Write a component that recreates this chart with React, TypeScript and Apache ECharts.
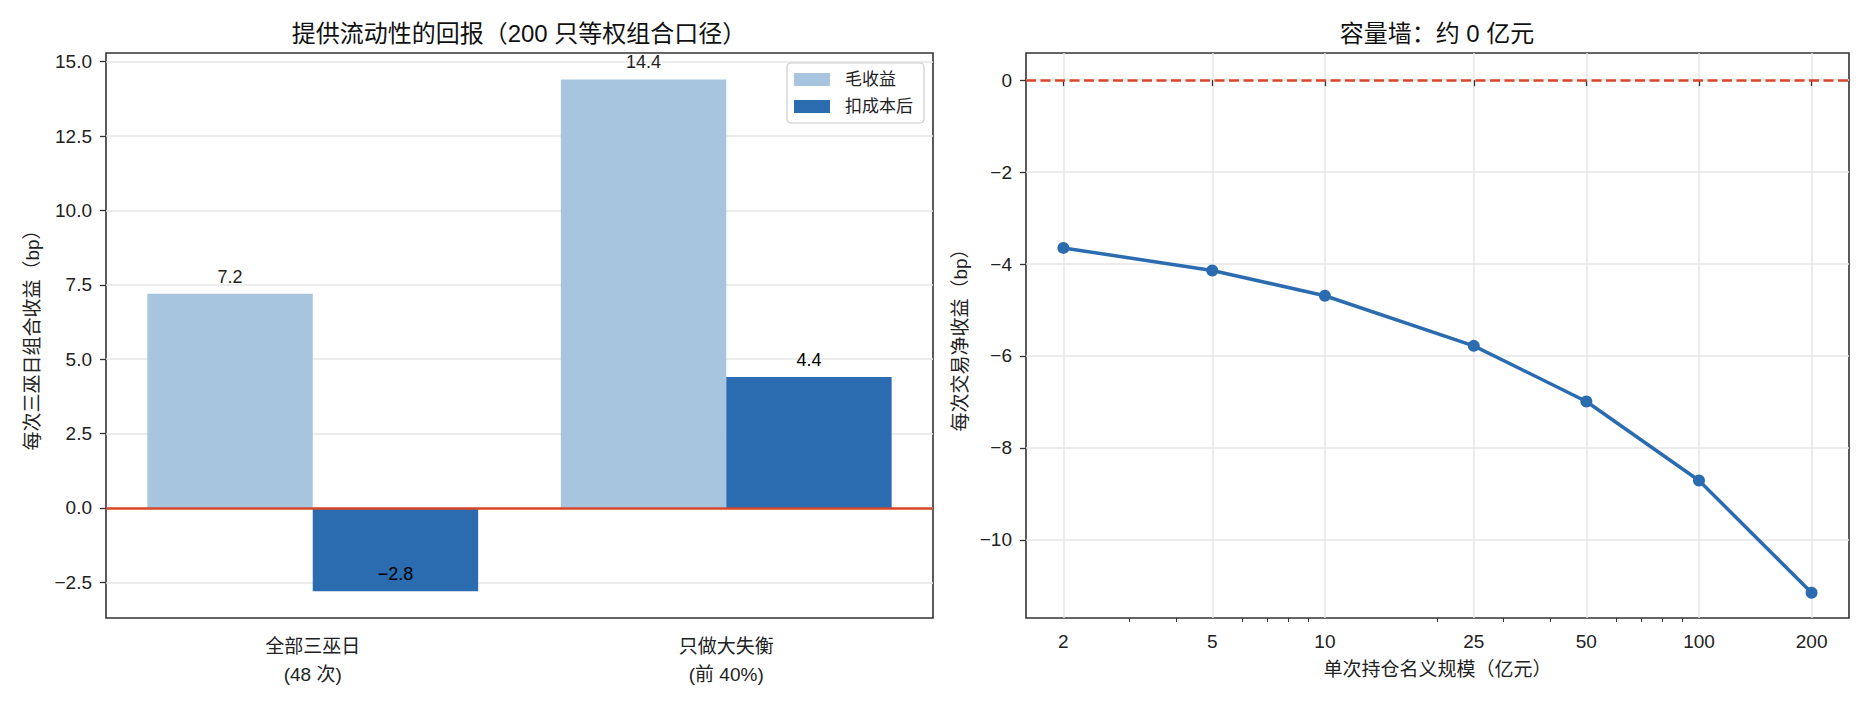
import { useEffect, useRef } from 'react';
import * as echarts from 'echarts';

// left panel: liquidity provision return
const categories = ['全部三巫日\n(48 次)', '只做大失衡\n(前 40%)'];
const grossReturn = [7.2, 14.4];
const netReturn = [-2.8, 4.4];
const leftTicks = [-2.5, 0, 2.5, 5, 7.5, 10, 12.5, 15];

// right panel: capacity wall
const sizes = [2, 5, 10, 25, 50, 100, 200];
const netPerTrade = [-3.65, -4.14, -4.69, -5.78, -6.99, -8.71, -11.15];
const sizeTicks = [2, 5, 10, 25, 50, 100, 200];
const sizeMinorTicks = [3, 4, 6, 7, 8, 9, 20, 30, 40, 60, 70, 80, 90];
const rightTicks = [-10, -8, -6, -4, -2, 0];

const FONT = "'Liberation Sans', 'Noto Sans CJK SC', sans-serif";
const LIGHT = '#a8c5e0';
const DARK = '#2b6cb0';
const RED = '#d6472b';
const GRID = '#e6e6e6';
const AXIS = '#333';

const minus = (s: string) => s.replace('-', '\u2212');

export default function App() {
  const chartRef = useRef<HTMLDivElement>(null);

  useEffect(() => {
    if (!chartRef.current) {
      return;
    }
    document.body.style.margin = '0';
    const chart = echarts.init(chartRef.current, null, { renderer: 'svg' });

    const tick = { length: 6, lineStyle: { color: AXIS, width: 1.3 } };
    const label = { fontSize: 19, color: '#222', fontFamily: FONT };

    const option: any = {
      animation: false,
      textStyle: { fontFamily: FONT },
      graphic: [
        {
          type: 'text',
          x: 519,
          y: 33,
          style: {
            text: '提供流动性的回报（200 只等权组合口径）',
            font: `24px ${FONT}`,
            fill: '#111',
            textAlign: 'center',
            textVerticalAlign: 'middle',
          },
        },
        {
          type: 'text',
          x: 1437,
          y: 33,
          style: {
            text: '容量墙：约 0 亿元',
            font: `24px ${FONT}`,
            fill: '#111',
            textAlign: 'center',
            textVerticalAlign: 'middle',
          },
        },
      ],
      legend: {
        left: 787,
        top: 63,
        orient: 'vertical',
        data: ['毛收益', '扣成本后'],
        icon: 'rect',
        itemWidth: 36,
        itemHeight: 13,
        itemGap: 10,
        padding: [8, 11, 8, 7],
        borderColor: '#ccc',
        borderWidth: 1.2,
        borderRadius: 4,
        backgroundColor: 'rgba(255,255,255,0.8)',
        textStyle: { fontSize: 17, color: '#222', padding: [0, 0, 0, 10], lineHeight: 17 },
      },
      grid: [
        { left: 106, top: 53, width: 827, height: 565, show: true, borderColor: AXIS, borderWidth: 1.6 },
        { left: 1026, top: 53, width: 823, height: 565, show: true, borderColor: AXIS, borderWidth: 1.6 },
      ],
      xAxis: [
        {
          type: 'category',
          gridIndex: 0,
          data: categories,
          axisLine: { show: false },
          axisTick: { ...tick, alignWithLabel: true },
          axisLabel: { ...label, lineHeight: 28, margin: 14 },
          splitLine: { show: false },
        },
        {
          type: 'log',
          gridIndex: 1,
          position: 'bottom',
          min: 2 / 1.2589,
          max: 200 * 1.2589,
          axisLine: { show: false },
          axisTick: { ...tick, customValues: sizeTicks },
          axisLabel: { ...label, customValues: sizeTicks, margin: 14, formatter: (v: number) => String(v) },
          splitLine: { show: true, lineStyle: { color: GRID, width: 1.5 } },
          name: '单次持仓名义规模（亿元）',
          nameLocation: 'middle',
          nameGap: 42,
          nameTextStyle: { fontSize: 19, color: '#222' },
        },
        {
          // minor log ticks
          type: 'log',
          gridIndex: 1,
          position: 'bottom',
          offset: 0,
          min: 2 / 1.2589,
          max: 200 * 1.2589,
          axisLine: { show: false },
          axisTick: { length: 4, lineStyle: { color: AXIS, width: 1 }, customValues: sizeMinorTicks },
          axisLabel: { show: false },
          splitLine: { show: false },
        },
      ],
      yAxis: [
        {
          type: 'value',
          gridIndex: 0,
          min: -3.7,
          max: 15.29,
          axisLine: { show: false },
          axisTick: { ...tick, show: true, customValues: leftTicks },
          axisLabel: {
            ...label,
            margin: 14,
            customValues: leftTicks,
            formatter: (v: number) => minus(v.toFixed(1)),
          },
          splitLine: { show: true, lineStyle: { color: GRID, width: 1.5 } },
          name: '每次三巫日组合收益（bp）',
          nameLocation: 'middle',
          nameRotate: 90,
          nameGap: 64,
          nameTextStyle: { fontSize: 19, color: '#222' },
        },
        {
          type: 'value',
          gridIndex: 1,
          min: -11.7,
          max: 0.59,
          axisLine: { show: false },
          axisTick: { ...tick, show: true, customValues: rightTicks },
          axisLabel: {
            ...label,
            margin: 14,
            customValues: rightTicks,
            formatter: (v: number) => minus(String(v)),
          },
          splitLine: { show: true, lineStyle: { color: GRID, width: 1.5 } },
          name: '每次交易净收益（bp）',
          nameLocation: 'middle',
          nameRotate: 90,
          nameGap: 56,
          nameTextStyle: { fontSize: 19, color: '#222' },
        },
      ],
      series: [
        {
          name: '毛收益',
          type: 'bar',
          xAxisIndex: 0,
          yAxisIndex: 0,
          barWidth: '40%',
          barGap: '0%',
          itemStyle: { color: LIGHT },
          data: grossReturn.map((v) => ({
            value: v,
            label: v < 0 ? { position: 'insideBottom' } : {},
          })),
          label: {
            show: true,
            position: 'top',
            distance: 8,
            fontSize: 18,
            color: '#222',
            formatter: (p: any) => minus(p.value.toFixed(1)),
          },
        },
        {
          name: '扣成本后',
          type: 'bar',
          xAxisIndex: 0,
          yAxisIndex: 0,
          barWidth: '40%',
          barGap: '0%',
          itemStyle: { color: DARK },
          data: netReturn.map((v) => ({
            value: v,
            label: v < 0 ? { position: 'insideBottom' } : {},
          })),
          label: {
            show: true,
            position: 'top',
            distance: 8,
            fontSize: 18,
            color: '#000',
            formatter: (p: any) => minus(p.value.toFixed(1)),
          },
          markLine: {
            silent: true,
            symbol: 'none',
            label: { show: false },
            lineStyle: { type: 'solid', color: RED, width: 2.5 },
            data: [{ yAxis: 0 }],
          },
        },
        {
          name: 'capacity',
          type: 'line',
          xAxisIndex: 1,
          yAxisIndex: 1,
          data: sizes.map((s, i) => [s, netPerTrade[i]]),
          symbol: 'circle',
          symbolSize: 12,
          lineStyle: { color: DARK, width: 3.5 },
          itemStyle: { color: DARK },
          markLine: {
            silent: true,
            symbol: 'none',
            label: { show: false },
            lineStyle: { type: [10, 4.5], color: RED, width: 2.5 },
            data: [{ yAxis: 0 }],
          },
        },
      ],
    };

    chart.setOption(option);

    return () => {
      chart.dispose();
    };
  }, []);

  return <div ref={chartRef} style={{ width: '1870px', height: '710px' }} />;
}
